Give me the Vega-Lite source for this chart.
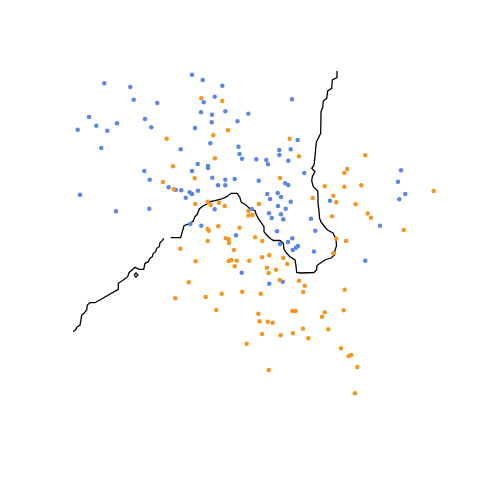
{
  "$schema": "https://vega.github.io/schema/vega-lite/v6.json",
  "width": 480,
  "height": 480,
  "padding": 0,
  "autosize": {"type": "fit", "contains": "padding"},
  "background": "white",
  "config": {"view": {"stroke": null}},
  "datasets": {
    "points": [
      {"x":192,"y":74.7,"c":"blue"},{"x":202.7,"y":80,"c":"blue"},{"x":104.3,"y":83.3,"c":"blue"},{"x":130.3,"y":87,"c":"blue"},{"x":222.3,"y":85.7,"c":"blue"},
      {"x":133.7,"y":99.7,"c":"blue"},{"x":157.3,"y":103,"c":"blue"},{"x":214.7,"y":96.7,"c":"blue"},{"x":203.7,"y":102.3,"c":"blue"},{"x":201,"y":112.3,"c":"blue"},
      {"x":212,"y":114.7,"c":"blue"},{"x":225.3,"y":111.3,"c":"blue"},{"x":89,"y":117,"c":"blue"},{"x":96.3,"y":125.7,"c":"blue"},{"x":117,"y":123.3,"c":"blue"},
      {"x":77.7,"y":129.7,"c":"blue"},{"x":107.3,"y":130.7,"c":"blue"},{"x":145,"y":119,"c":"blue"},{"x":151.3,"y":127.3,"c":"blue"},{"x":211.7,"y":122.3,"c":"blue"},
      {"x":237.5,"y":121.3,"c":"blue"},{"x":195,"y":128,"c":"blue"},{"x":210.3,"y":143.3,"c":"blue"},{"x":101.3,"y":148,"c":"blue"},{"x":180.7,"y":149.3,"c":"blue"},
      {"x":238.5,"y":146.7,"c":"blue"},{"x":239.5,"y":154,"c":"blue"},{"x":197.7,"y":164,"c":"blue"},{"x":208,"y":166,"c":"blue"},{"x":208,"y":168,"c":"blue"},
      {"x":192,"y":171,"c":"blue"},{"x":144.3,"y":171,"c":"blue"},{"x":149.7,"y":179.7,"c":"blue"},{"x":212.3,"y":177.7,"c":"blue"},{"x":225.3,"y":179.7,"c":"blue"},
      {"x":234.7,"y":179,"c":"blue"},{"x":218,"y":185.3,"c":"blue"},{"x":225.3,"y":185.3,"c":"blue"},{"x":168.7,"y":187.3,"c":"blue"},{"x":175.7,"y":189.7,"c":"blue"},
      {"x":181.3,"y":190.3,"c":"blue"},{"x":189.7,"y":192.3,"c":"blue"},{"x":192,"y":194,"c":"blue"},{"x":198,"y":190.7,"c":"blue"},{"x":185.7,"y":197.7,"c":"blue"},
      {"x":80,"y":194.7,"c":"blue"},{"x":116,"y":211.3,"c":"blue"},{"x":149.3,"y":208.7,"c":"blue"},{"x":214.7,"y":209.3,"c":"blue"},{"x":292,"y":99.3,"c":"blue"},
      {"x":248.3,"y":113.7,"c":"blue"},{"x":297.7,"y":140,"c":"blue"},{"x":242,"y":158.7,"c":"blue"},{"x":279.3,"y":150,"c":"blue"},{"x":290.7,"y":149.3,"c":"blue"},
      {"x":279.3,"y":155,"c":"blue"},{"x":256.3,"y":159.3,"c":"blue"},{"x":266.3,"y":160,"c":"blue"},{"x":268,"y":164.3,"c":"blue"},{"x":288.3,"y":160.7,"c":"blue"},
      {"x":304.3,"y":173,"c":"blue"},{"x":258.7,"y":180.7,"c":"blue"},{"x":285.3,"y":183.3,"c":"blue"},{"x":288.3,"y":185,"c":"blue"},{"x":267.3,"y":194,"c":"blue"},
      {"x":277.7,"y":193,"c":"blue"},{"x":281,"y":197,"c":"blue"},{"x":270,"y":199,"c":"blue"},{"x":290.7,"y":201.7,"c":"blue"},{"x":278,"y":206,"c":"blue"},
      {"x":285.7,"y":208.7,"c":"blue"},{"x":251.7,"y":209,"c":"blue"},{"x":269,"y":213.3,"c":"blue"},{"x":281,"y":214.3,"c":"blue"},{"x":271.7,"y":218,"c":"blue"},
      {"x":283.3,"y":219.3,"c":"blue"},{"x":311,"y":218.7,"c":"blue"},{"x":330,"y":200.7,"c":"blue"},{"x":401,"y":170.3,"c":"blue"},{"x":398,"y":181.7,"c":"blue"},
      {"x":405.3,"y":194,"c":"blue"},{"x":399.3,"y":199.3,"c":"blue"},{"x":190.3,"y":224,"c":"blue"},{"x":201.3,"y":225.7,"c":"blue"},{"x":236,"y":235.3,"c":"blue"},
      {"x":241.7,"y":272.7,"c":"blue"},{"x":277,"y":231.3,"c":"blue"},{"x":315.3,"y":230.7,"c":"blue"},{"x":292.3,"y":238.3,"c":"blue"},{"x":288,"y":242,"c":"blue"},
      {"x":280,"y":244,"c":"blue"},{"x":298,"y":246,"c":"blue"},{"x":296,"y":247.7,"c":"blue"},{"x":292.7,"y":250,"c":"blue"},{"x":314,"y":251.5,"c":"blue"},
      {"x":380,"y":225.7,"c":"blue"},{"x":365.3,"y":260.7,"c":"blue"},{"x":269.3,"y":283.7,"c":"blue"},{"x":282.7,"y":281.7,"c":"blue"},
      {"x":201.3,"y":98.3,"c":"orange"},{"x":222.3,"y":101,"c":"orange"},{"x":166.7,"y":138.7,"c":"orange"},{"x":213.3,"y":135.3,"c":"orange"},{"x":228,"y":130.3,"c":"orange"},
      {"x":215,"y":158.3,"c":"orange"},{"x":173,"y":166.3,"c":"orange"},{"x":194.7,"y":178.3,"c":"orange"},{"x":163,"y":182,"c":"orange"},{"x":173.7,"y":189.3,"c":"orange"},
      {"x":195.3,"y":204,"c":"orange"},{"x":207.7,"y":201.7,"c":"orange"},{"x":210.7,"y":205,"c":"orange"},{"x":219,"y":202.7,"c":"orange"},{"x":224.7,"y":206,"c":"orange"},
      {"x":289.7,"y":138.7,"c":"orange"},{"x":299,"y":156.3,"c":"orange"},{"x":365.3,"y":155.3,"c":"orange"},{"x":347.3,"y":169,"c":"orange"},{"x":344.3,"y":173,"c":"orange"},
      {"x":280,"y":178,"c":"orange"},{"x":324.7,"y":186.3,"c":"orange"},{"x":344.3,"y":186.7,"c":"orange"},{"x":361.3,"y":185.3,"c":"orange"},{"x":312.7,"y":198,"c":"orange"},
      {"x":333.3,"y":195.7,"c":"orange"},{"x":336.3,"y":202.3,"c":"orange"},{"x":355.7,"y":204.3,"c":"orange"},{"x":259,"y":204,"c":"orange"},{"x":248.5,"y":211,"c":"orange"},
      {"x":248.5,"y":215.5,"c":"orange"},{"x":252.5,"y":215,"c":"orange"},{"x":332,"y":216.3,"c":"orange"},{"x":367.7,"y":213.5,"c":"orange"},{"x":371,"y":217.8,"c":"orange"},
      {"x":433.7,"y":191,"c":"orange"},{"x":218.3,"y":226.3,"c":"orange"},{"x":207.7,"y":229,"c":"orange"},{"x":208.7,"y":230.7,"c":"orange"},{"x":239.5,"y":227.8,"c":"orange"},
      {"x":207.7,"y":241,"c":"orange"},{"x":225.7,"y":238.3,"c":"orange"},{"x":228.7,"y":239.3,"c":"orange"},{"x":229,"y":243,"c":"orange"},{"x":255.2,"y":237.3,"c":"orange"},
      {"x":180.3,"y":248.7,"c":"orange"},{"x":234,"y":250,"c":"orange"},{"x":195.7,"y":261.3,"c":"orange"},{"x":228.7,"y":261,"c":"orange"},{"x":231.3,"y":260,"c":"orange"},
      {"x":236.7,"y":260.7,"c":"orange"},{"x":234.7,"y":266.3,"c":"orange"},{"x":249.3,"y":260.7,"c":"orange"},{"x":188.7,"y":282.3,"c":"orange"},{"x":242.2,"y":291.7,"c":"orange"},
      {"x":175.3,"y":298.3,"c":"orange"},{"x":205.7,"y":297,"c":"orange"},{"x":221.7,"y":293.7,"c":"orange"},{"x":216.3,"y":310,"c":"orange"},{"x":258.3,"y":313.7,"c":"orange"},
      {"x":259.5,"y":321.3,"c":"orange"},{"x":246.7,"y":343.7,"c":"orange"},{"x":403.7,"y":230,"c":"orange"},{"x":262.3,"y":241,"c":"orange"},{"x":336.3,"y":238.7,"c":"orange"},
      {"x":346,"y":241,"c":"orange"},{"x":333.3,"y":253.3,"c":"orange"},{"x":262,"y":257.3,"c":"orange"},{"x":269.3,"y":255.3,"c":"orange"},{"x":283.3,"y":258,"c":"orange"},
      {"x":287.3,"y":264,"c":"orange"},{"x":267,"y":267.7,"c":"orange"},{"x":276,"y":269.7,"c":"orange"},{"x":268.7,"y":273,"c":"orange"},{"x":279.7,"y":280,"c":"orange"},
      {"x":299,"y":280.7,"c":"orange"},{"x":304.7,"y":285.7,"c":"orange"},{"x":303.3,"y":292,"c":"orange"},{"x":260.7,"y":293.7,"c":"orange"},{"x":344.7,"y":289.7,"c":"orange"},
      {"x":292.3,"y":311,"c":"orange"},{"x":295.7,"y":311,"c":"orange"},{"x":324.7,"y":312.3,"c":"orange"},{"x":322,"y":316.7,"c":"orange"},{"x":343.7,"y":310.3,"c":"orange"},
      {"x":267.7,"y":321.7,"c":"orange"},{"x":272.7,"y":322.7,"c":"orange"},{"x":303,"y":328.7,"c":"orange"},{"x":328.3,"y":329.3,"c":"orange"},{"x":262,"y":334,"c":"orange"},
      {"x":280.7,"y":335.3,"c":"orange"},{"x":293,"y":333.3,"c":"orange"},{"x":308.3,"y":338.3,"c":"orange"},{"x":341,"y":348.3,"c":"orange"},{"x":348.7,"y":356.3,"c":"orange"},
      {"x":351.3,"y":355,"c":"orange"},{"x":357.3,"y":367,"c":"orange"},{"x":268.7,"y":370,"c":"orange"},{"x":355,"y":393.3,"c":"orange"}
    ],
    "boundary": [
      {"s":1,"i":1,"x":73.3,"y":331.7},{"s":1,"i":2,"x":76,"y":329.3},{"s":1,"i":3,"x":76.7,"y":327.3},{"s":1,"i":4,"x":80,"y":325},{"s":1,"i":5,"x":80.7,"y":321.7},
      {"s":1,"i":6,"x":81.7,"y":315},{"s":1,"i":7,"x":84,"y":313.3},{"s":1,"i":8,"x":86.7,"y":310},{"s":1,"i":9,"x":87.3,"y":305},{"s":1,"i":10,"x":90,"y":302.7},
      {"s":1,"i":11,"x":95,"y":302.7},{"s":1,"i":12,"x":118.3,"y":289.3},{"s":1,"i":13,"x":118.3,"y":283.3},{"s":1,"i":14,"x":123.3,"y":280},{"s":1,"i":15,"x":127.7,"y":276.7},
      {"s":1,"i":16,"x":129,"y":272.7},{"s":1,"i":17,"x":135,"y":267.3},{"s":1,"i":18,"x":139,"y":269.3},{"s":1,"i":19,"x":143.7,"y":269.3},{"s":1,"i":20,"x":145,"y":263.3},
      {"s":1,"i":21,"x":148.3,"y":261.7},{"s":1,"i":22,"x":150,"y":258.3},{"s":1,"i":23,"x":152.3,"y":256.7},{"s":1,"i":24,"x":153.3,"y":253.3},{"s":1,"i":25,"x":155.7,"y":251.7},
      {"s":1,"i":26,"x":156.7,"y":248.3},{"s":1,"i":27,"x":159.3,"y":246.7},{"s":1,"i":28,"x":160,"y":242.7},{"s":1,"i":29,"x":162.3,"y":240.7},{"s":1,"i":30,"x":163.7,"y":238.3},
      {"s":2,"i":1,"x":134,"y":275},{"s":2,"i":2,"x":136,"y":273},{"s":2,"i":3,"x":138,"y":275},{"s":2,"i":4,"x":136,"y":277},{"s":2,"i":5,"x":134,"y":275},
      {"s":3,"i":1,"x":170.7,"y":237.7},{"s":3,"i":2,"x":180.7,"y":237.7},{"s":3,"i":3,"x":182,"y":232.7},{"s":3,"i":4,"x":184,"y":225.7},{"s":3,"i":5,"x":190,"y":223.3},
      {"s":3,"i":6,"x":193.3,"y":221},{"s":3,"i":7,"x":194.7,"y":217},{"s":3,"i":8,"x":197.3,"y":214.3},{"s":3,"i":9,"x":199.3,"y":209},{"s":3,"i":10,"x":203.3,"y":205.7},
      {"s":3,"i":11,"x":206.7,"y":204.3},{"s":3,"i":12,"x":210,"y":201.7},{"s":3,"i":13,"x":215,"y":200.7},{"s":3,"i":14,"x":221.7,"y":199},{"s":3,"i":15,"x":226.7,"y":196.7},
      {"s":3,"i":16,"x":231,"y":193.3},{"s":3,"i":17,"x":237.3,"y":193.3},{"s":3,"i":18,"x":240,"y":197.7},{"s":3,"i":19,"x":241.3,"y":202.3},{"s":3,"i":20,"x":246,"y":205},
      {"s":3,"i":21,"x":250,"y":209},{"s":3,"i":22,"x":255,"y":210.5},{"s":3,"i":23,"x":256,"y":214},{"s":3,"i":24,"x":258.3,"y":218.3},{"s":3,"i":25,"x":261.7,"y":223.3},
      {"s":3,"i":26,"x":264,"y":226.7},{"s":3,"i":27,"x":264,"y":231.7},{"s":3,"i":28,"x":266.7,"y":235},{"s":3,"i":29,"x":270,"y":238.3},{"s":3,"i":30,"x":273.3,"y":240.5},
      {"s":3,"i":31,"x":280,"y":240.5},{"s":3,"i":32,"x":283.3,"y":243.3},{"s":3,"i":33,"x":284,"y":249.3},{"s":3,"i":34,"x":286.7,"y":253.3},{"s":3,"i":35,"x":290,"y":256.7},
      {"s":3,"i":36,"x":295,"y":260},{"s":3,"i":37,"x":296,"y":266},{"s":3,"i":38,"x":296.7,"y":272.5},{"s":3,"i":39,"x":301,"y":273},{"s":3,"i":40,"x":314,"y":272.5},
      {"s":3,"i":41,"x":316.5,"y":270},{"s":3,"i":42,"x":317,"y":265.5},{"s":3,"i":43,"x":321,"y":262.5},{"s":3,"i":44,"x":326,"y":259.5},{"s":3,"i":45,"x":331,"y":258},
      {"s":3,"i":46,"x":334.5,"y":255},{"s":3,"i":47,"x":335,"y":250},{"s":3,"i":48,"x":336.5,"y":246},{"s":3,"i":49,"x":336,"y":239},{"s":3,"i":50,"x":333,"y":233},
      {"s":3,"i":51,"x":327.5,"y":230},{"s":3,"i":52,"x":324,"y":226},{"s":3,"i":53,"x":321,"y":222},{"s":3,"i":54,"x":319.5,"y":218},{"s":3,"i":55,"x":319,"y":211},
      {"s":3,"i":56,"x":318,"y":203},{"s":3,"i":57,"x":318,"y":196},{"s":3,"i":58,"x":317.7,"y":191},{"s":3,"i":59,"x":313.3,"y":186.7},{"s":3,"i":60,"x":311.7,"y":181},
      {"s":3,"i":61,"x":312.3,"y":176.7},{"s":3,"i":62,"x":315,"y":171.7},{"s":3,"i":63,"x":311.7,"y":168.3},{"s":3,"i":64,"x":314,"y":165},{"s":3,"i":65,"x":315,"y":156.7},
      {"s":3,"i":66,"x":315.7,"y":148.3},{"s":3,"i":67,"x":316.3,"y":142.3},{"s":3,"i":68,"x":319,"y":136.7},{"s":3,"i":69,"x":320.7,"y":133.3},{"s":3,"i":70,"x":321,"y":111.7},
      {"s":3,"i":71,"x":322.7,"y":107.7},{"s":3,"i":72,"x":323.3,"y":101},{"s":3,"i":73,"x":326.7,"y":98.3},{"s":3,"i":74,"x":327.7,"y":91},{"s":3,"i":75,"x":331.7,"y":88.3},
      {"s":3,"i":76,"x":332.3,"y":80},{"s":3,"i":77,"x":337,"y":77.7},{"s":3,"i":78,"x":337,"y":71}
    ]
  },
  "layer": [
    {
      "data": {"name": "boundary"},
      "mark": {"type": "line", "color": "black", "strokeWidth": 1.3},
      "encoding": {
        "x": {"field": "x", "type": "quantitative", "scale": {"domain": [0, 480], "nice": false, "zero": false}, "axis": null},
        "y": {"field": "y", "type": "quantitative", "scale": {"domain": [0, 480], "nice": false, "zero": false, "reverse": true}, "axis": null},
        "detail": {"field": "s", "type": "nominal"},
        "order": {"field": "i", "type": "quantitative"}
      }
    },
    {
      "data": {"name": "points"},
      "mark": {"type": "circle", "size": 20, "opacity": 1},
      "encoding": {
        "x": {"field": "x", "type": "quantitative"},
        "y": {"field": "y", "type": "quantitative"},
        "color": {"field": "c", "type": "nominal", "scale": {"domain": ["blue", "orange"], "range": ["#5a86e6", "#f5961f"]}, "legend": null}
      }
    }
  ]
}
